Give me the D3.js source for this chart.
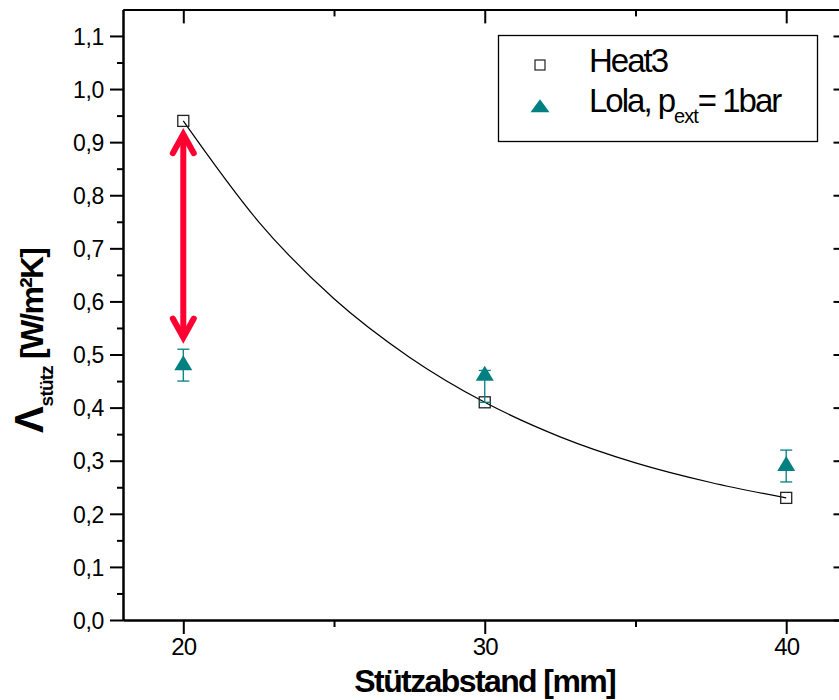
<!DOCTYPE html>
<html>
<head>
<meta charset="utf-8">
<script src="https://cdn.jsdelivr.net/npm/d3@7"></script>
<style>
  html, body { margin: 0; padding: 0; background: #fff; }
  svg { display: block; }
  text { font-family: "Liberation Sans", Arial, Helvetica, sans-serif; fill: #000; }
</style>
</head>
<body>
<svg id="chart" width="839" height="700"></svg>
<script>
// Support spacing (mm) at which both data sets were evaluated
const spacing = [20, 30, 40];

// Heat3 simulation results
const heat3 = [0.94, 0.41, 0.23];

// Lola measurements (p_ext = 1 bar) with error bar limits
const lola = [0.48, 0.46, 0.29];
const lolaLow = [0.45, 0.41, 0.26];
const lolaHigh = [0.51, 0.47, 0.32];

// Decay fit through the Heat3 values
const fitX = [20, 22.5, 25, 27.5, 30, 32.5, 35, 37.5, 40];
const fitY = [0.94, 0.75, 0.605, 0.495, 0.41, 0.345, 0.296, 0.259, 0.23];

// Red double arrow marking the gap at 20 mm
const gapX = 20;
const gapFrom = 0.915;
const gapTo = 0.532;

// Axis ticks
const xMajor = [20, 30, 40];
const xMajorLabels = ["20", "30", "40"];
const xMinor = [25, 35];
const yMajor = [0, 0.1, 0.2, 0.3, 0.4, 0.5, 0.6, 0.7, 0.8, 0.9, 1.0, 1.1];
const yMajorLabels = ["0,0", "0,1", "0,2", "0,3", "0,4", "0,5", "0,6", "0,7", "0,8", "0,9", "1,0", "1,1"];
const yMinor = [0.05, 0.15, 0.25, 0.35, 0.45, 0.55, 0.65, 0.75, 0.85, 0.95, 1.05];

const svg = d3.select("#chart");

const x = d3.scaleLinear().domain([18, 42]).range([123, 846.5]);
const y = d3.scaleLinear().domain([0, 1.15]).range([620, 9.4]);

const teal = "#008080";
const red = "#ff0033";

// ---- axes ----
function styleAxis(g) {
  g.select(".domain").attr("stroke", "#000").attr("stroke-width", 2);
  g.selectAll(".tick line").attr("stroke", "#000").attr("stroke-width", 2);
}

// bottom: major + minor ticks outward
svg.append("g").attr("transform", `translate(0,${y(0)})`)
  .call(d3.axisBottom(x).tickValues(xMinor).tickSize(7).tickSizeOuter(0).tickFormat(""))
  .call(styleAxis);
svg.append("g").attr("transform", `translate(0,${y(0)})`)
  .call(d3.axisBottom(x).tickValues(xMajor).tickSize(14).tickSizeOuter(0)
    .tickFormat((d, i) => xMajorLabels[i]))
  .call(styleAxis)
  .call(g => g.selectAll(".tick text").attr("font-size", 24).attr("dy", 0).attr("y", 35)
    .attr("letter-spacing", -0.8));

// top: ticks pointing inward
svg.append("g").attr("transform", `translate(0,${y(1.15)})`)
  .call(d3.axisTop(x).tickValues(xMinor).tickSize(-7).tickSizeOuter(0).tickFormat(""))
  .call(styleAxis);
svg.append("g").attr("transform", `translate(0,${y(1.15)})`)
  .call(d3.axisTop(x).tickValues(xMajor).tickSize(-14).tickSizeOuter(0).tickFormat(""))
  .call(styleAxis);

// left: major + minor ticks outward
svg.append("g").attr("transform", `translate(${x(18)},0)`)
  .call(d3.axisLeft(y).tickValues(yMinor).tickSize(6).tickSizeOuter(0).tickFormat(""))
  .call(styleAxis);
svg.append("g").attr("transform", `translate(${x(18)},0)`)
  .call(d3.axisLeft(y).tickValues(yMajor).tickSize(13).tickSizeOuter(0)
    .tickFormat((d, i) => yMajorLabels[i]))
  .call(styleAxis)
  .call(g => g.selectAll(".tick text").attr("font-size", 23).attr("x", -19).attr("dy", "0.36em")
    .attr("letter-spacing", -0.3));

// right: ticks pointing inward
svg.append("g").attr("transform", `translate(${x(42)},0)`)
  .call(d3.axisRight(y).tickValues(yMinor).tickSize(-6).tickSizeOuter(0).tickFormat(""))
  .call(styleAxis);
svg.append("g").attr("transform", `translate(${x(42)},0)`)
  .call(d3.axisRight(y).tickValues(yMajor).tickSize(-13).tickSizeOuter(0).tickFormat(""))
  .call(styleAxis);

// ---- axis titles ----
svg.append("text")
  .attr("x", x(30)).attr("y", 692)
  .attr("text-anchor", "middle")
  .attr("font-size", 32).attr("font-weight", "bold").attr("letter-spacing", -1.6)
  .text("Stützabstand [mm]");

const yTitle = svg.append("text")
  .attr("transform", `translate(43,341) rotate(-90)`)
  .attr("text-anchor", "middle")
  .attr("font-weight", "bold");
yTitle.append("tspan").attr("font-size", 40).text("Λ");
yTitle.append("tspan").attr("font-size", 19).attr("dy", 10).attr("letter-spacing", -0.8).text("stütz");
yTitle.append("tspan").attr("font-size", 32).attr("dy", -10).attr("letter-spacing", -1.8).text(" [W/m²K]");

// ---- fit curve ----
const fitLine = d3.line()
  .x((d, i) => x(fitX[i]))
  .y(d => y(d))
  .curve(d3.curveMonotoneX);
svg.append("path")
  .datum(fitY)
  .attr("d", fitLine)
  .attr("fill", "none")
  .attr("stroke", "#000")
  .attr("stroke-width", 1.2);

// ---- Heat3 squares ----
const sq = 11;
svg.append("g").selectAll("rect")
  .data(heat3)
  .join("rect")
  .attr("x", (d, i) => x(spacing[i]) - sq / 2)
  .attr("y", d => y(d) - sq / 2)
  .attr("width", sq).attr("height", sq)
  .attr("fill", "none")
  .attr("stroke", "#222")
  .attr("stroke-width", 1.3);

// ---- Lola error bars and triangles ----
const capW = 12;
const eb = svg.append("g").attr("stroke", teal).attr("stroke-width", 1.3);
eb.selectAll("line.v").data(lola).join("line").attr("class", "v")
  .attr("x1", (d, i) => x(spacing[i])).attr("x2", (d, i) => x(spacing[i]))
  .attr("y1", (d, i) => y(lolaLow[i])).attr("y2", (d, i) => y(lolaHigh[i]));
eb.selectAll("line.lo").data(lola).join("line").attr("class", "lo")
  .attr("x1", (d, i) => x(spacing[i]) - capW / 2).attr("x2", (d, i) => x(spacing[i]) + capW / 2)
  .attr("y1", (d, i) => y(lolaLow[i])).attr("y2", (d, i) => y(lolaLow[i]));
eb.selectAll("line.hi").data(lola).join("line").attr("class", "hi")
  .attr("x1", (d, i) => x(spacing[i]) - capW / 2).attr("x2", (d, i) => x(spacing[i]) + capW / 2)
  .attr("y1", (d, i) => y(lolaHigh[i])).attr("y2", (d, i) => y(lolaHigh[i]));

function triPath(w, h) {
  return `M0,${-2 * h / 3}L${w / 2},${h / 3}L${-w / 2},${h / 3}Z`;
}
svg.append("g").selectAll("path")
  .data(lola)
  .join("path")
  .attr("transform", (d, i) => `translate(${x(spacing[i])},${y(d)})`)
  .attr("d", triPath(18, 15))
  .attr("fill", teal);

// ---- red double arrow ----
const ax = x(gapX), ay1 = y(gapFrom), ay2 = y(gapTo);
const headW = 10.5, headH = 19;
const arrow = svg.append("g")
  .attr("stroke", red).attr("stroke-width", 6).attr("fill", "none")
  .attr("stroke-linecap", "round").attr("stroke-linejoin", "miter");
arrow.append("line").attr("x1", ax).attr("x2", ax).attr("y1", ay1 + 3).attr("y2", ay2 - 3);
arrow.append("path").attr("d", `M${ax - headW},${ay1 + headH}L${ax},${ay1}L${ax + headW},${ay1 + headH}`);
arrow.append("path").attr("d", `M${ax - headW},${ay2 - headH}L${ax},${ay2}L${ax + headW},${ay2 - headH}`);

// ---- legend ----
const lg = svg.append("g");
lg.append("rect").attr("x", 498.5).attr("y", 35.5).attr("width", 319).attr("height", 106)
  .attr("fill", "#fff").attr("stroke", "#000").attr("stroke-width", 1.3);
lg.append("rect").attr("x", 535).attr("y", 60).attr("width", 10).attr("height", 10)
  .attr("fill", "none").attr("stroke", "#222").attr("stroke-width", 1.2);
lg.append("text").attr("x", 589).attr("y", 72).attr("font-size", 33).attr("letter-spacing", -2)
  .text("Heat3");
lg.append("path").attr("transform", "translate(540,108)").attr("d", triPath(19, 13)).attr("fill", teal);
const lt = lg.append("text").attr("x", 589).attr("y", 112).attr("font-size", 33).attr("letter-spacing", -2);
lt.append("tspan").text("Lola, p");
lt.append("tspan").attr("font-size", 20).attr("dy", 11).attr("letter-spacing", -1).text("ext");
lt.append("tspan").attr("dy", -11).text("= 1bar");
</script>
</body>
</html>
